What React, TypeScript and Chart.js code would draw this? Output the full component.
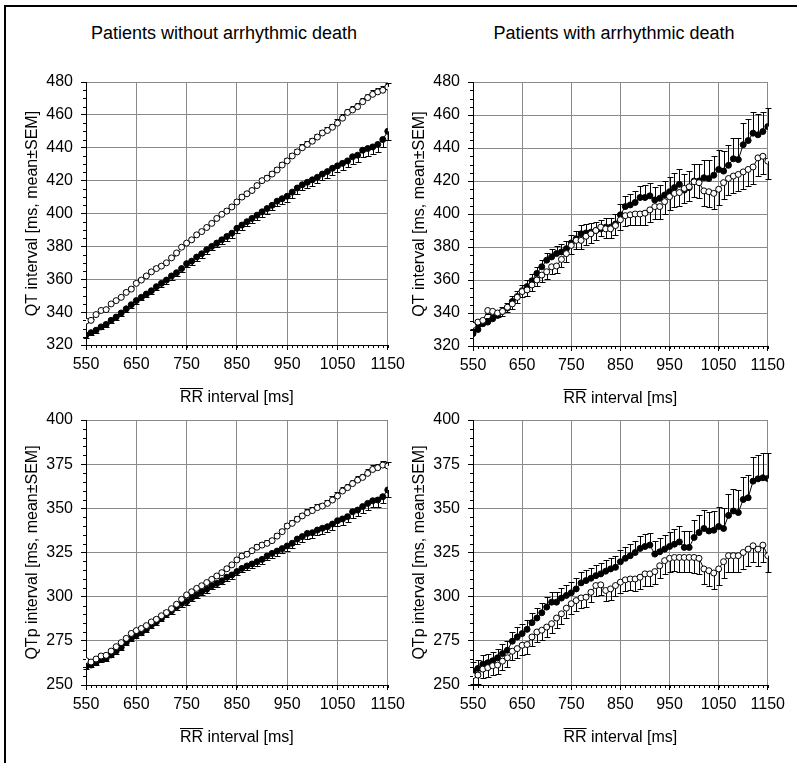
import React, { useEffect, useRef } from "react";
import { Chart, registerables } from "chart.js";

Chart.register(...registerables);

// ---------- data ----------
const rrInterval = [
  550, 560, 570, 580, 590, 600, 610, 620, 630, 640,
  650, 660, 670, 680, 690, 700, 710, 720, 730, 740,
  750, 760, 770, 780, 790, 800, 810, 820, 830, 840,
  850, 860, 870, 880, 890, 900, 910, 920, 930, 940,
  950, 960, 970, 980, 990, 1000, 1010, 1020, 1030, 1040,
  1050, 1060, 1070, 1080, 1090, 1100, 1110, 1120, 1130, 1140,
  1150,
];
const rrTicks = [550, 650, 750, 850, 950, 1050, 1150];
const qtTicks = [320, 340, 360, 380, 400, 420, 440, 460, 480];
const qtpTicks = [250, 275, 300, 325, 350, 375, 400];

const columnTitles = ["Patients without arrhythmic death", "Patients with arrhythmic death"];
const xTitle = "RR interval [ms]";
const qtTitle = "QT interval [ms, mean\u00b1SEM]";
const qtpTitle = "QTp interval [ms, mean\u00b1SEM]";

// QT, patients without arrhythmic death
const qtWithoutOpen = [
  334.5, 335, 338.5, 341, 341.5, 345, 347, 349, 352, 354,
  357.5, 359.5, 362, 364.5, 366.5, 368, 370, 373, 376, 379.5,
  382, 384, 387, 389, 391.5, 394, 397, 399.5, 401.5, 404,
  407, 410, 412, 414, 417, 420, 421.5, 424, 426.5, 429.5,
  432, 435, 437.5, 440, 442, 444, 446.5, 449, 450.5, 452.5,
  455, 458, 461.5, 463, 465, 468, 470.5, 472.5, 474, 475,
  477,
];
const semQtWithoutOpen = [
  1, 1, 1, 1, 1, 1.1, 1.1, 1.1, 1.2, 1.2,
  1.2, 1.2, 1.3, 1.3, 1.3, 1.3, 1.4, 1.4, 1.4, 1.4,
  1.5, 1.5, 1.5, 1.5, 1.6, 1.6, 1.6, 1.6, 1.7, 1.7,
  1.7, 1.7, 1.8, 1.8, 1.8, 1.8, 1.9, 1.9, 1.9, 1.9,
  2, 2, 2, 2, 2.1, 2.1, 2.1, 2.1, 2.2, 2.2,
  2.2, 2.3, 2.3, 2.3, 2.4, 2.4, 2.4, 2.5, 2.5, 2.6,
  2.6,
];
const qtWithoutFilled = [
  326, 327.5, 329, 331, 332.5, 335, 337, 339.5, 342, 344.5,
  347, 349, 351, 353, 355.5, 357.5, 359.5, 362, 364, 366.5,
  369.5, 371, 373.5, 375.5, 378, 380, 382, 384, 386, 388,
  391, 393, 395, 397, 399, 401, 403, 405, 407.5, 409,
  410.5, 413, 415.5, 417.5, 419, 420.5, 422, 424, 425.5, 427.5,
  429, 430.5, 432, 434.5, 435.5, 438.5, 439.5, 440.5, 442, 445,
  450,
];
const semQtWithoutFilled = [
  1.5, 1.5, 1.5, 1.5, 1.6, 1.6, 1.7, 1.7, 1.8, 1.8,
  1.9, 1.9, 2, 2, 2, 2.1, 2.1, 2.2, 2.2, 2.3,
  2.3, 2.4, 2.4, 2.5, 2.5, 2.5, 2.6, 2.6, 2.7, 2.7,
  2.8, 2.8, 2.9, 2.9, 3, 3, 3.1, 3.1, 3.2, 3.2,
  3.3, 3.3, 3.4, 3.4, 3.5, 3.5, 3.6, 3.7, 3.7, 3.8,
  3.9, 3.9, 4, 4.1, 4.2, 4.3, 4.4, 4.5, 4.6, 4.8,
  5,
];

// QT, patients with arrhythmic death
const qtWithOpen = [
  332.5, 334.5, 335.5, 341.5, 341, 340, 341, 343.5, 345.5, 349.5,
  353, 354, 357, 360, 363, 365, 368, 368.5, 372.5, 376,
  381, 384, 384, 386.5, 388, 390, 392, 391, 391, 393,
  396.5, 399, 399.5, 400, 400, 400.5, 402.5, 404.5, 404.5, 407.5,
  410.5, 412.5, 413, 415.5, 416.5, 419.5, 419, 414, 413.5, 412.5,
  415, 419, 421.5, 423, 424, 425.5, 427, 428.5, 434, 435,
  432,
];
const semQtWithOpen = [
  2, 2, 2.1, 2.2, 2.4, 2.5, 2.7, 2.9, 3, 3.2,
  3.4, 3.5, 3.7, 3.9, 4, 4.2, 4.4, 4.5, 4.7, 4.9,
  5, 5.1, 5.2, 5.3, 5.4, 5.5, 5.6, 5.7, 5.8, 5.9,
  6, 6.2, 6.4, 6.6, 6.8, 7, 7.2, 7.4, 7.6, 7.8,
  8, 8.2, 8.4, 8.6, 8.8, 9, 9.2, 9.4, 9.5, 9.6,
  9.7, 9.8, 9.9, 10, 10.1, 10.2, 10.3, 10.5, 10.7, 10.9,
  11,
];
const qtWithFilled = [
  327.5, 330, 333.5, 334.5, 336.5, 338.5, 341, 343, 347, 350,
  353.5, 356, 359.5, 364, 368, 372, 374, 376, 377, 379,
  382.5, 385, 388, 388.5, 389, 390, 391, 392, 392, 394,
  399.5, 404.5, 405.5, 407, 410, 410, 411, 408.5, 409.5, 411.5,
  413.5, 416, 418, 414.5, 416, 420, 420, 422, 421.5, 423.5,
  427, 426, 429.5, 433.5, 433, 442, 444.5, 449, 448, 450,
  453,
];
const semQtWithFilled = [
  2, 2, 2.2, 2.3, 2.5, 2.7, 2.8, 3, 3.2, 3.4,
  3.5, 3.7, 3.9, 4, 4.2, 4.4, 4.5, 4.6, 4.7, 4.8,
  5, 5, 5.1, 5.2, 5.3, 5.4, 5.5, 5.6, 5.8, 6,
  6.3, 6.5, 6.8, 7, 7.2, 7.5, 7.7, 8, 8.2, 8.5,
  8.8, 9, 9.3, 9.6, 10, 10.3, 10.6, 11, 11.3, 11.7,
  12, 12.2, 12.5, 12.8, 13, 13.2, 13.3, 13, 12.5, 12,
  11.5,
];

// QTp, patients without arrhythmic death
const qtpWithoutOpen = [
  263.8, 263, 264.7, 266.4, 266.8, 269.2, 271.7, 274, 276.4, 279.2,
  280.8, 282, 283.6, 285.7, 287.2, 289.2, 291, 293.2, 295.7, 298.5,
  301, 302.8, 304.7, 306.2, 308, 309.8, 311.7, 313.6, 315.8, 318,
  320.8, 323, 324, 326, 328, 329.2, 330.2, 331.7, 334.3, 336.8,
  340, 341.5, 343.8, 345.7, 347.5, 348.7, 350.4, 351.3, 352.8, 354.7,
  357, 359.8, 361.7, 364, 366, 367.5, 369.8, 372, 373, 374.5,
  374,
];
const semQtpWithoutOpen = [
  0.8, 0.8, 0.8, 0.9, 0.9, 0.9, 0.9, 1, 1, 1,
  1, 1, 1.1, 1.1, 1.1, 1.1, 1.2, 1.2, 1.2, 1.2,
  1.3, 1.3, 1.3, 1.3, 1.4, 1.4, 1.4, 1.4, 1.5, 1.5,
  1.5, 1.5, 1.6, 1.6, 1.6, 1.6, 1.7, 1.7, 1.7, 1.7,
  1.8, 1.8, 1.8, 1.8, 1.9, 1.9, 1.9, 1.9, 2, 2,
  2, 2.1, 2.1, 2.1, 2.2, 2.2, 2.2, 2.3, 2.3, 2.4,
  2.4,
];
const qtpWithoutFilled = [
  260.4, 261.3, 262.6, 264.5, 265, 267, 269.2, 271.3, 274, 276.4,
  278.3, 279.6, 281.5, 284, 285.8, 287.7, 290.2, 292, 294.3, 296.2,
  297.2, 299.4, 301, 302.8, 304.2, 306.2, 307.5, 309, 311, 312.3,
  314.2, 316, 317.4, 318.5, 319.8, 321.1, 323, 324.5, 325.8, 327.2,
  328.7, 330.2, 332.6, 334, 335.8, 336.2, 337.7, 338.7, 339.6, 341.1,
  343, 344, 345.3, 348.1, 349, 351, 352.8, 354.3, 354.7, 356.6,
  360.4,
];
const semQtpWithoutFilled = [
  1.2, 1.2, 1.2, 1.3, 1.3, 1.3, 1.4, 1.4, 1.4, 1.5,
  1.5, 1.5, 1.6, 1.6, 1.6, 1.7, 1.7, 1.7, 1.8, 1.8,
  1.9, 1.9, 1.9, 2, 2, 2, 2.1, 2.1, 2.2, 2.2,
  2.2, 2.3, 2.3, 2.4, 2.4, 2.5, 2.5, 2.5, 2.6, 2.6,
  2.7, 2.7, 2.8, 2.8, 2.9, 2.9, 3, 3, 3.1, 3.1,
  3.2, 3.2, 3.3, 3.3, 3.4, 3.5, 3.5, 3.6, 3.7, 3.8,
  3.9,
];

// QTp, patients with arrhythmic death
const qtpWithOpen = [
  255.3, 255.6, 259, 259.8, 260.9, 261.3, 263.5, 265.4, 269.1, 270.6,
  272.5, 272.9, 277.2, 280, 281, 282.8, 284.7, 287.9, 290.3, 293.5,
  296, 297.8, 299.3, 299.7, 302.5, 306.3, 306.7, 303.5, 304.4, 306.3,
  308.2, 309.5, 310, 310, 311, 312.9, 312.9, 314.2, 317.5, 320.4,
  321.7, 322.2, 322.2, 322.2, 322.2, 322.2, 321.7, 315.7, 314.7, 313.4,
  315.7, 319.8, 323.2, 323.2, 323.2, 325, 326.9, 328.8, 326.9, 329.2,
  323.2,
];
const semQtpWithOpen = [
  5, 5, 5, 5, 5.1, 5.1, 5.1, 5.2, 5.2, 5.2,
  5.3, 5.3, 5.3, 5.4, 5.4, 5.4, 5.5, 5.5, 5.5, 5.6,
  5.6, 5.7, 5.7, 5.8, 5.8, 5.9, 5.9, 6, 6.1, 6.2,
  6.3, 6.4, 6.5, 6.6, 6.7, 6.8, 6.9, 7, 7.2, 7.4,
  7.6, 7.8, 8, 8.2, 8.4, 8.6, 8.7, 8.8, 8.9, 9,
  9, 9.1, 9.1, 9.2, 9.2, 9.3, 9.3, 9.4, 9.4, 9.5,
  9.5,
];
const qtpWithFilled = [
  258, 259.4, 261.8, 262.6, 263.7, 265.4, 267.8, 269.7, 274.8, 277.2,
  279.1, 281.5, 285.3, 287.9, 290.9, 294.1, 296.9, 296.9, 299.2, 300.7,
  302.2, 304.4, 307.8, 309.1, 310.4, 311.9, 312.9, 314.4, 315.7, 316.6,
  319.8, 321.7, 323.2, 325, 327.3, 328.4, 329.2, 324.1, 325.4, 326.9,
  328.4, 329.7, 331, 327.9, 327.9, 333.5, 336.3, 338.6, 337.2, 337.6,
  339.7, 338.6, 346, 348.5, 347.6, 355, 356, 365.4, 366.7, 367.3,
  366.9,
];
const semQtpWithFilled = [
  5, 5, 5, 5.1, 5.1, 5.2, 5.2, 5.3, 5.3, 5.4,
  5.4, 5.5, 5.5, 5.6, 5.6, 5.7, 5.7, 5.8, 5.8, 5.9,
  5.9, 6, 6, 6.1, 6.1, 6.2, 6.2, 6.3, 6.3, 6.4,
  6.4, 6.5, 6.6, 6.7, 6.8, 6.9, 7.1, 7.4, 7.7, 8,
  8.3, 8.6, 8.9, 9.2, 9.5, 9.8, 10.1, 10.4, 10.7, 11,
  11.3, 11.6, 11.9, 12.2, 12.5, 12.8, 13.1, 13.4, 13.7, 14,
  14.2,
];

const qtMinor = [
  325, 330, 335, 345, 350, 355, 365, 370, 375, 385, 390, 395, 405, 410, 415,
  425, 430, 435, 445, 450, 455, 465, 470, 475,
];
const qtpMinor = [
  255, 260, 265, 270, 280, 285, 290, 295, 305, 310, 315, 320, 330, 335, 340, 345,
  355, 360, 365, 370, 380, 385, 390, 395,
];

// ---------- styling ----------
const FONT = "'Liberation Sans', Arial, Helvetica, sans-serif";
const TICK_SIZE = 16;
const TITLE_SIZE = 16;

const errorBarPlugin = {
  id: "errorBars",
  beforeDatasetsDraw(chart: any) {
    const ctx = chart.ctx;
    const ys = chart.scales.y;
    chart.data.datasets.forEach((ds: any, i: number) => {
      const meta = chart.getDatasetMeta(i);
      ctx.save();
      ctx.strokeStyle = "#000";
      ctx.lineWidth = 1;
      meta.data.forEach((pt: any, j: number) => {
        const v = ds.data[j].y + ds.semDir * ds.sem[j];
        const y2 = Math.round(ys.getPixelForValue(v)) + 0.5;
        const x = Math.round(pt.x) + 0.5;
        ctx.beginPath();
        ctx.moveTo(x, pt.y);
        ctx.lineTo(x, y2);
        ctx.moveTo(x - 3, y2);
        ctx.lineTo(x + 3, y2);
        ctx.stroke();
      });
      ctx.restore();
    });
  },
};

const minorTickPlugin = {
  id: "minorTicks",
  afterDraw(chart: any) {
    const ctx = chart.ctx;
    const xs = chart.scales.x;
    const ys = chart.scales.y;
    const { left, bottom } = chart.chartArea;
    ctx.save();
    ctx.strokeStyle = "#000";
    ctx.lineWidth = 1;
    ctx.beginPath();
    rrInterval.forEach((v) => {
      const x = Math.round(xs.getPixelForValue(v)) + 0.5;
      ctx.moveTo(x, bottom);
      ctx.lineTo(x, bottom + 3);
    });
    const minorY: number[] = chart.options.minorY;
    minorY.forEach((v) => {
      const y = Math.round(ys.getPixelForValue(v)) + 0.5;
      ctx.moveTo(left - 3, y);
      ctx.lineTo(left, y);
    });
    ctx.stroke();
    // overline over "RR" in the x title
    ctx.font = `${TITLE_SIZE}px ${FONT}`;
    const full = ctx.measureText(xTitle).width;
    const rr = ctx.measureText("RR").width;
    const cx = (chart.chartArea.left + chart.chartArea.right) / 2;
    const lineH = TITLE_SIZE * 1.2;
    const ty = xs.bottom - (lineH / 2 + 8);
    const oy = Math.round(ty - TITLE_SIZE * 0.5) - 0.5;
    ctx.beginPath();
    ctx.moveTo(cx - full / 2, oy);
    ctx.lineTo(cx - full / 2 + rr, oy);
    ctx.stroke();
    ctx.restore();
  },
};

type PanelProps = {
  left: number;
  top: number;
  width: number;
  height: number;
  padRight: number;
  yTicks: number[];
  minorY: number[];
  yTitle: string;
  open: number[];
  openSem: number[];
  openDir: number;
  filled: number[];
  filledSem: number[];
  filledDir: number;
};

function Panel(p: PanelProps) {
  const ref = useRef<HTMLCanvasElement>(null);
  useEffect(() => {
    if (!ref.current) return;
    const mk = (vals: number[]) => rrInterval.map((x, i) => ({ x, y: vals[i] }));
    const chart = new Chart(ref.current, {
      type: "line",
      data: {
        datasets: [
          {
            data: mk(p.open),
            sem: p.openSem,
            semDir: p.openDir,
            borderColor: "#000",
            borderWidth: 1,
            backgroundColor: "#fff",
            pointBackgroundColor: "#fff",
            pointBorderColor: "#000",
            pointBorderWidth: 1,
            pointRadius: 3,
            tension: 0,
          } as any,
          {
            data: mk(p.filled),
            sem: p.filledSem,
            semDir: p.filledDir,
            borderColor: "#000",
            borderWidth: 1,
            backgroundColor: "#000",
            pointBackgroundColor: "#000",
            pointBorderColor: "#000",
            pointBorderWidth: 1,
            pointRadius: 3,
            tension: 0,
          } as any,
        ],
      },
      options: {
        animation: false,
        responsive: false,
        devicePixelRatio: 1,
        minorY: p.minorY,
        layout: { padding: { top: 22, right: p.padRight, left: 0, bottom: 0 } },
        plugins: { legend: { display: false }, tooltip: { enabled: false } },
        scales: {
          x: {
            type: "linear",
            min: 550,
            max: 1150,
            afterBuildTicks: (s: any) => {
              s.ticks = rrTicks.map((v) => ({ value: v }));
            },
            afterFit: (s: any) => {
              s.height = 70;
            },
            grid: { color: "#8a8a8a", lineWidth: 1, drawTicks: true, tickLength: 5, tickColor: "#000" },
            border: { color: "#000", width: 1 },
            ticks: {
              color: "#000",
              font: { family: FONT, size: TICK_SIZE },
              padding: 5,
              maxRotation: 0,
              autoSkip: false,
              callback: (v: any) => String(v),
            },
            title: {
              display: true,
              text: xTitle,
              color: "#000",
              font: { family: FONT, size: TITLE_SIZE },
              padding: { top: 0, bottom: 8 },
            },
          },
          y: {
            type: "linear",
            min: p.yTicks[0],
            max: p.yTicks[p.yTicks.length - 1],
            afterBuildTicks: (s: any) => {
              s.ticks = p.yTicks.map((v) => ({ value: v }));
            },
            afterFit: (s: any) => {
              s.width = 76;
            },
            grid: { color: "#8a8a8a", lineWidth: 1, drawTicks: true, tickLength: 5, tickColor: "#000" },
            border: { color: "#000", width: 1 },
            ticks: {
              color: "#000",
              font: { family: FONT, size: TICK_SIZE },
              padding: 8,
              autoSkip: false,
              callback: (v: any) => String(v),
            },
            title: {
              display: true,
              text: p.yTitle,
              color: "#000",
              font: { family: FONT, size: TITLE_SIZE },
              padding: { top: 13, bottom: 0 },
            },
          },
        },
      } as any,
      plugins: [errorBarPlugin, minorTickPlugin],
    });
    return () => chart.destroy();
  }, []);
  return (
    <canvas
      ref={ref}
      width={p.width}
      height={p.height}
      style={{ position: "absolute", left: p.left, top: p.top, width: p.width, height: p.height }}
    />
  );
}

export default function App() {
  const titleStyle = (cx: number): React.CSSProperties => ({
    position: "absolute",
    left: cx,
    top: 23,
    transform: "translateX(-50%)",
    whiteSpace: "nowrap",
    fontFamily: FONT,
    fontSize: 18,
    lineHeight: "20px",
    color: "#000",
  });
  return (
    <div
      style={{
        position: "fixed",
        left: 0,
        top: 0,
        width: 797,
        height: 763,
        overflow: "hidden",
        background: "#fff",
      }}
    >
      <div
        style={{
          position: "absolute",
          left: 4,
          top: 5,
          width: 840,
          height: 840,
          border: "2px solid #000",
        }}
      />
      <div style={titleStyle(224)}>{columnTitles[0]}</div>
      <div style={titleStyle(614)}>{columnTitles[1]}</div>
      <Panel
        left={10} top={60} width={400} height={355} padRight={21}
        yTicks={qtTicks} minorY={qtMinor} yTitle={qtTitle}
        open={qtWithoutOpen} openSem={semQtWithoutOpen} openDir={1}
        filled={qtWithoutFilled} filledSem={semQtWithoutFilled} filledDir={-1}
      />
      <Panel
        left={397} top={60} width={393} height={356} padRight={22}
        yTicks={qtTicks} minorY={qtMinor} yTitle={qtTitle}
        open={qtWithOpen} openSem={semQtWithOpen} openDir={-1}
        filled={qtWithFilled} filledSem={semQtWithFilled} filledDir={1}
      />
      <Panel
        left={10} top={398} width={400} height={357} padRight={21}
        yTicks={qtpTicks} minorY={qtpMinor} yTitle={qtpTitle}
        open={qtpWithoutOpen} openSem={semQtpWithoutOpen} openDir={1}
        filled={qtpWithoutFilled} filledSem={semQtpWithoutFilled} filledDir={-1}
      />
      <Panel
        left={397} top={398} width={393} height={357} padRight={22}
        yTicks={qtpTicks} minorY={qtpMinor} yTitle={qtpTitle}
        open={qtpWithOpen} openSem={semQtpWithOpen} openDir={-1}
        filled={qtpWithFilled} filledSem={semQtpWithFilled} filledDir={1}
      />
    </div>
  );
}
